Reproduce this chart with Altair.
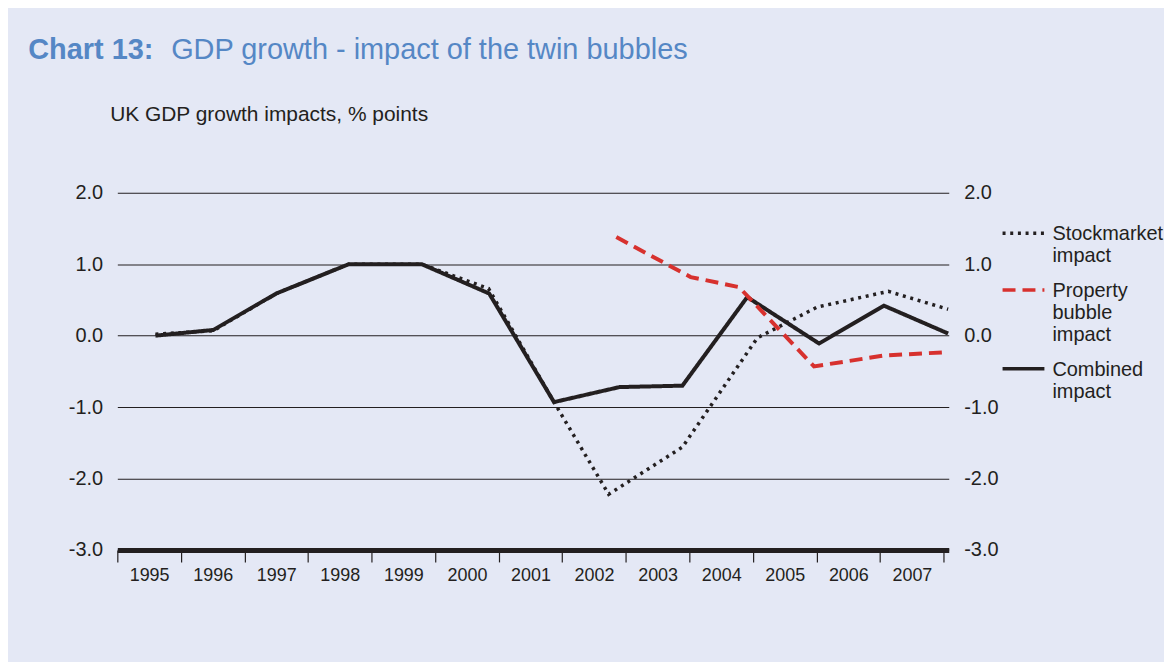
import altair as alt
import pandas as pd

# ---------------- data ----------------
series_names = ["Stockmarket impact", "Property bubble impact", "Combined impact"]

stock_period = [1995.10, 1996.01, 1997.00, 1998.14, 1999.29, 2000.34, 2001.37,
                2002.23, 2003.39, 2004.57, 2005.51, 2006.63, 2007.57]
stock_value = [0.02, 0.07, 0.59, 1.00, 1.00, 0.66, -0.93,
               -2.22, -1.56, -0.03, 0.40, 0.62, 0.37]

property_period = [2002.35, 2003.52, 2004.28, 2005.46, 2006.55, 2007.56]
property_value = [1.38, 0.82, 0.68, -0.43, -0.28, -0.23]

combined_period = [1995.10, 1996.01, 1997.00, 1998.14, 1999.29, 2000.35, 2001.37,
                   2002.40, 2003.39, 2004.41, 2005.54, 2006.56, 2007.57]
combined_value = [0.00, 0.08, 0.59, 1.00, 1.00, 0.59, -0.93,
                  -0.72, -0.70, 0.54, -0.11, 0.42, 0.03]

year_ticks = [1994.5 + i for i in range(14)]   # band boundaries between years
y_ticks = [-3, -2, -1, 0, 1, 2]

title_bold = "Chart 13:"
title_rest = "GDP growth - impact of the twin bubbles"
y_caption = "UK GDP growth impacts, % points"

rows = []
for name, ps, vs in zip(series_names,
                        [stock_period, property_period, combined_period],
                        [stock_value, property_value, combined_value]):
    for p, v in zip(ps, vs):
        rows.append({"series": name, "period": p, "value": v})
df = pd.DataFrame(rows)

# ---------------- style ----------------
INK = "#231f20"
RED = "#d7312e"
BLUE = "#5587c5"
BG = "#e4e8f5"
FONT = "Liberation Sans"

PLOT_W, PLOT_H = 834.3, 358.4
PAD = {"left": 109.7, "top": 184.3, "right": 216, "bottom": 111.3}

Y_LABEL_EXPR = ("datum.value < 0 ? '-' + format(-datum.value, '.1f') "
                ": format(datum.value, '.1f')")

x_enc = alt.X(
    "period:Q",
    scale=alt.Scale(domain=[1994.5, 2007.58], nice=False, zero=False),
    axis=alt.Axis(
        values=year_ticks, title=None, grid=False,
        labelExpr="datum.value > 2007 ? '' : format(datum.value + 0.5, 'd')",
        labelOffset=31.9, labelFontSize=18, labelColor=INK, labelPadding=5,
        labelFlush=False, labelOverlap=False, labelBound=False,
        tickSize=12, tickWidth=1.2, tickColor=INK,
        domainWidth=5, domainColor=INK, domainCap="butt",
    ),
)

y_scale = alt.Scale(domain=[-3, 2], nice=False, zero=False)

y_left = alt.Y(
    "value:Q", scale=y_scale,
    axis=alt.Axis(
        orient="left", values=y_ticks, labelExpr=Y_LABEL_EXPR,
        title=y_caption, titleAngle=0, titleAlign="left", titleBaseline="alphabetic",
        titleX=-7.7, titleY=-72.3, titleFontSize=21, titleFontWeight="normal",
        titleColor=INK,
        labelFontSize=20, labelColor=INK, labelPadding=14.7,
        ticks=False, tickSize=0, domain=False,
        grid=True, gridColor=INK, gridWidth=1.1,
    ),
)
y_right = alt.Y(
    "value:Q", scale=y_scale,
    axis=alt.Axis(
        orient="right", values=y_ticks, labelExpr=Y_LABEL_EXPR, title=None,
        labelFontSize=20, labelColor=INK, labelPadding=15,
        ticks=False, tickSize=0, domain=False, grid=False,
    ),
)
y_none = alt.Y("value:Q", scale=y_scale, axis=None)

# legend symbol: a 42px stroke, drawn level with the first label line
legend = alt.Legend(
    title=None, orient="none", legendX=899.3, legendY=21.7,
    labelExpr="split(datum.label, ' ')",
    labelFontSize=20, labelColor=INK, labelBaseline="top", labelOffset=19,
    labelLimit=300,
    symbolType="M-21,8.8L21,8.8", symbolSize=4, symbolStrokeWidth=3.5,
    rowPadding=5, padding=0,
)

color_enc = alt.Color("series:N",
                      scale=alt.Scale(domain=series_names, range=[INK, RED, INK]),
                      legend=legend)
dash_enc = alt.StrokeDash("series:N",
                          scale=alt.Scale(domain=series_names,
                                          range=[[3, 4.7], [13, 7], [1, 0]]),
                          legend=legend)

base = alt.Chart(df)

stock_layer = base.transform_filter(alt.datum.series == series_names[0]).mark_line(
    strokeWidth=3.5).encode(x=x_enc, y=y_left, color=color_enc, strokeDash=dash_enc)
combined_layer = base.transform_filter(alt.datum.series == series_names[2]).mark_line(
    strokeWidth=4).encode(x=x_enc, y=y_right, color=color_enc, strokeDash=dash_enc)
property_layer = base.transform_filter(alt.datum.series == series_names[1]).mark_line(
    strokeWidth=4).encode(x=x_enc, y=y_none, color=color_enc, strokeDash=dash_enc)

title_a = alt.Chart(alt.Data(values=[{"t": title_bold}])).mark_text(
    align="left", baseline="alphabetic", fontSize=29, fontWeight="bold",
    color=BLUE, font=FONT,
).encode(x=alt.value(-89.4), y=alt.value(-134), text="t:N")
title_b = alt.Chart(alt.Data(values=[{"t": title_rest}])).mark_text(
    align="left", baseline="alphabetic", fontSize=29, fontWeight="normal",
    color=BLUE, font=FONT,
).encode(x=alt.value(54), y=alt.value(-134), text="t:N")

chart = (
    alt.layer(stock_layer, combined_layer, property_layer, title_a, title_b)
    .resolve_scale(y="shared")
    .resolve_axis(y="independent")
    .properties(width=PLOT_W, height=PLOT_H, padding=PAD,
                autosize=alt.AutoSizeParams(type="none"), background=BG)
    .configure(font=FONT)
    .configure_view(stroke=None)
)

chart.save("out.html", embed_options={"renderer": "svg", "actions": False})
